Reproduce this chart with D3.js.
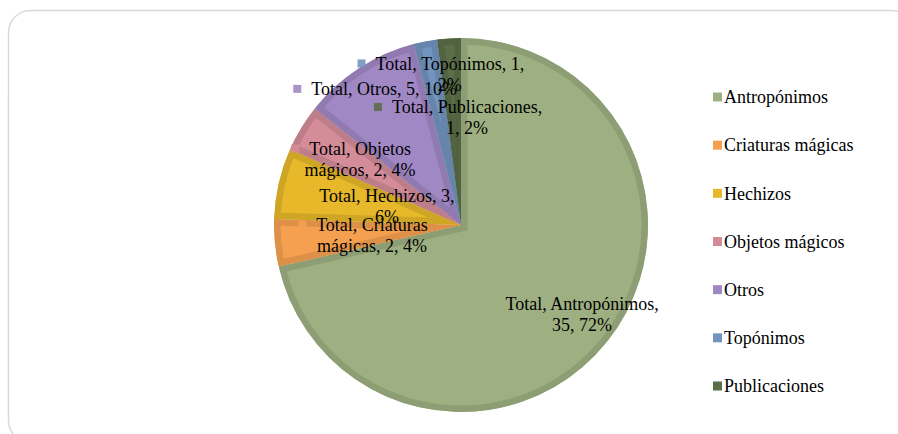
<!DOCTYPE html>
<html lang="es">
<head>
<meta charset="utf-8">
<script src="https://d3js.org/d3.v7.min.js"></script>
<style type="text/css">
body { margin: 0; background: #fff; }
svg text { font-family: "Liberation Serif", "Times New Roman", Times, "DejaVu Serif", serif; font-size: 18px; fill: #000; }
</style>
</head>
<body>
<script type="text/javascript">

// chart values
var categories = ["Antropónimos", "Criaturas mágicas", "Hechizos", "Objetos mágicos", "Otros", "Topónimos", "Publicaciones"];
var values = [35, 2, 3, 2, 5, 1, 1];
var percents = [72, 4, 6, 4, 10, 2, 2];
var seriesName = "Total";
var colors = ["#9eb081", "#f5a050", "#e6b82a", "#d48c98", "#a088c4", "#7394bf", "#5a6e48"];

// label layout (how Excel wrapped and placed the data labels)
var labelBreak = [2, 2, 3, 2, 5, 3, 2];          // words on first line
var labelRadius = [0.803, 0.479, 0.408, 0.645, 0.836, 0.81, 0.576];
var labelShift = [-2.3, -0.9, 1.1, 2, 3.6, 6.8, 6.9]; // degrees

var width = 898;
var height = 434;
var cx = 461, cy = 225, radius = 187;

var svg = d3.select("body")
			.append("svg")
			.attr("width", width)
			.attr("height", height)
			.attr("font-family", "'Liberation Serif', 'Times New Roman', serif");

// chart frame
svg.append("rect")
	.attr("x", 8.5)
	.attr("y", 10.5)
	.attr("width", 905)
	.attr("height", 432)
	.attr("rx", 22)
	.style("fill", "none")
	.style("stroke", "#d9d9d9")
	.style("stroke-width", 1.5);

var pie = d3.pie().sort(null).value(function(d) { return d; });
var arcs = pie(values);

var arc = d3.arc().innerRadius(0).outerRadius(radius);

var g = svg.append("g").attr("transform", "translate(" + cx + "," + cy + ")");

var defs = svg.append("defs");
defs.selectAll("clipPath")
	.data(arcs)
	.enter()
	.append("clipPath")
	.attr("id", function(d, i) { return "clip" + i; })
	.append("path")
	.attr("d", arc);

// slices with a darker inner rim (bevel look)
g.selectAll("path.slice")
	.data(arcs)
	.enter()
	.append("path")
	.attr("class", "slice")
	.attr("d", arc)
	.attr("clip-path", function(d, i) { return "url(#clip" + i + ")"; })
	.style("fill", function(d, i) { return colors[i]; })
	.style("stroke", function(d, i) { return d3.color(colors[i]).darker(0.3); })
	.style("stroke-width", 13);

// data labels
var labels = svg.append("g");
arcs.forEach(function(d, i) {
	var mid = (d.startAngle + d.endAngle) / 2 + labelShift[i] * Math.PI / 180;
	var r = radius * labelRadius[i];
	var x = cx + r * Math.sin(mid);
	var y = cy - r * Math.cos(mid);

	var words = (seriesName + ", " + categories[i] + ", " + values[i] + ", " + percents[i] + "%").split(" ");
	var lines = [words.slice(0, labelBreak[i]).join(" ")];
	if (labelBreak[i] < words.length) lines.push(words.slice(labelBreak[i]).join(" "));

	var lg = labels.append("g");
	var first = null;
	lines.forEach(function(line, j) {
		var t = lg.append("text")
			.attr("x", x)
			.attr("y", y + (j - (lines.length - 1) / 2) * 21)
			.attr("dy", "0.35em")
			.attr("text-anchor", "middle")
			.text(line);
		if (j == 0) first = t;
	});
	var w = first.node().getComputedTextLength();
	lg.insert("rect", "text")
		.attr("x", x - w / 2 - 18)
		.attr("y", y - (lines.length - 1) / 2 * 21 - 4)
		.attr("width", 8)
		.attr("height", 8)
		.style("fill", colors[i])
		.style("opacity", i == 0 ? 0.6 : 0.9);
});

// legend
var ly = d3.scalePoint().domain(categories).range([97, 386]);

var legend = svg.append("g")
	.selectAll("g")
	.data(categories)
	.enter()
	.append("g")
	.attr("transform", function(d) { return "translate(713," + ly(d) + ")"; });

legend.append("rect")
	.attr("x", 0)
	.attr("y", -4.5)
	.attr("width", 9)
	.attr("height", 9)
	.style("fill", function(d, i) { return colors[i]; });

legend.append("text")
	.attr("x", 11)
	.attr("y", 0)
	.attr("dy", "0.35em")
	.text(function(d) { return d; });

</script>
</body>
</html>
